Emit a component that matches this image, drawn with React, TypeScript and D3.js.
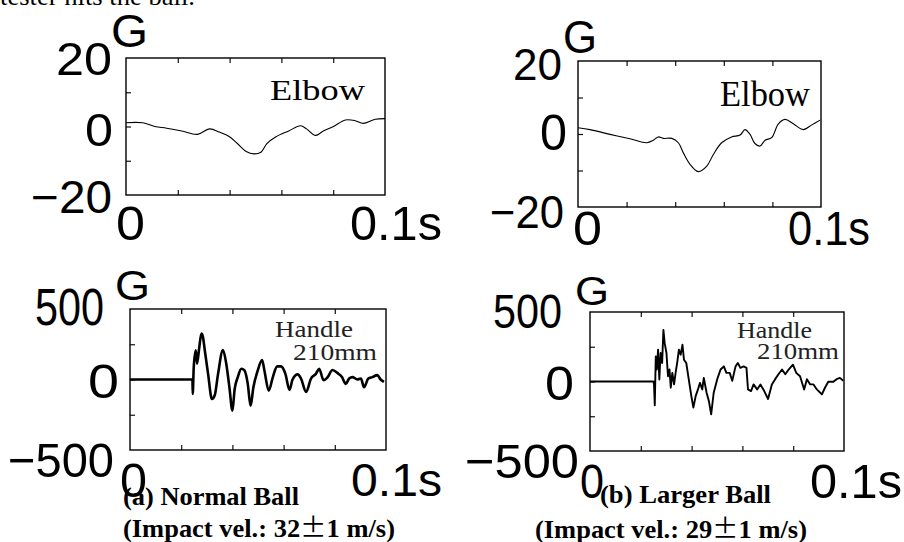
import React, { useEffect, useRef } from 'react';
import * as d3 from 'd3';

// time in ms (0..100 = 0..0.1 s), acceleration in G

// (a) normal ball, elbow
const elbowTimeA = [0, 6.5, 11.1, 15.7, 21.5, 27.6, 32.2, 36.0, 39.8, 42.9, 46.4, 49.4, 52.1, 54.4, 57.9, 62.8, 67.4, 69.7, 73.2, 76.2, 80.1, 84.7, 88.5, 91.6, 96.2, 100];
const elbowAccA = [1.1, 1.1, 0, -0.5, -1.3, -2.3, -0.7, -1.6, -2.9, -4.9, -7.3, -8, -7.5, -5, -3, -1.3, 0.2, -0.7, -2.6, -1.3, 0, 1.9, 1.7, 0.9, 2.1, 2.3];

// (b) larger ball, elbow
const elbowTimeB = [0, 4.9, 13.2, 21.4, 28.3, 31.0, 33.0, 35.1, 38.6, 41.3, 43.3, 46.1, 49.5, 53.0, 55.7, 59.1, 63.2, 66.7, 68.7, 70.8, 72.8, 74.9, 77.0, 79.7, 82.4, 85.2, 88.6, 92.7, 96.2, 99.6];
const elbowAccB = [1.7, 1.2, -0.1, -1.3, -2.4, -1.7, -0.8, -1.2, -1.2, -2.4, -5.1, -8.3, -10.3, -8.8, -5.6, -2.4, -0.8, -0.3, 1.2, -0.1, -2.6, -3.3, -1.7, -1.0, 2.7, 4.0, 2.8, 1.2, 2.5, 3.8];

// (a) normal ball, handle 210mm
const handleTimeA = [0, 24.4, 24.5, 24.9, 25.7, 26.2, 27.0, 27.9, 28.5, 29.2, 30.5, 32.0, 33.1, 34.4, 36.3, 37.6, 38.9, 40.0, 40.9, 42.1, 43.5, 44.7, 46.0, 47.1, 48.2, 49.9, 51.6, 52.5, 54.2, 55.8, 57.5, 59.0, 60.7, 62.3, 63.5, 65.5, 66.8, 68.8, 70.7, 72.6, 73.9, 75.6, 77.2, 79.1, 81.1, 82.8, 84.3, 85.6, 86.9, 88.8, 90.2, 91.4, 93.1, 94.7, 96.6, 97.9, 99.2];
const handleAccA = [0, 0, -102, 88, 207, 112, 219, 326, 302, 209, 40, -138, -112, 40, 209, 112, -66, -221, -66, 17, 76, 64, -31, -186, -55, 64, 138, 64, -79, 17, 93, 93, 40, -74, 0, 36, 7, -88, 7, 40, 76, -5, 17, 67, 45, 17, -31, 7, 17, 0, 7, -55, 7, 17, 31, 0, -17];

// (b) larger ball, handle 210mm
const handleTimeB = [0, 25.0, 25.2, 25.5, 25.9, 26.3, 26.8, 27.3, 27.8, 28.4, 28.9, 29.4, 30.1, 30.7, 31.3, 31.8, 32.4, 33.1, 33.7, 34.4, 35.0, 35.7, 36.4, 37.0, 37.9, 38.9, 39.9, 40.7, 41.6, 42.5, 43.3, 44.2, 44.8, 45.9, 46.8, 47.7, 48.7, 50.1, 51.4, 52.7, 53.7, 55.0, 56.0, 57.3, 58.2, 59.2, 60.5, 61.6, 62.2, 63.4, 64.4, 65.8, 67.1, 68.6, 70.1, 71.6, 72.9, 74.2, 75.6, 76.9, 78.2, 79.9, 81.2, 82.7, 84.3, 85.4, 86.7, 88.0, 89.3, 91.3, 92.5, 93.8, 95.8, 97.1, 98.4, 99.7];
const handleAccB = [0, 0, -21, -171, 181, 86, 229, 14, 205, 133, 371, 276, 205, 38, 86, -45, 62, -21, 62, 145, 229, 193, 264, 157, 133, 14, -105, -188, -105, -57, -10, -57, 26, -81, -140, -236, -81, 17, 86, 109, 62, 62, 5, 109, 133, 98, 109, 98, -57, -69, -21, -57, -21, -69, -126, -21, 17, 52, 86, 52, 86, 121, 62, 38, -57, 17, -21, -21, -57, -93, -45, -2, -2, 17, 26, 5];

const timeTicks = [20, 40, 60, 80];

const SANS = '"Liberation Sans", Arial, sans-serif';
const SERIF = '"Liberation Serif", "Times New Roman", serif';
const CJK = '"Noto Sans CJK JP", "Noto Sans", sans-serif';

type Label = { text: string; x: number; y: number; size: number; w: number; font?: string; weight?: string; fill?: string };
type Box = { x0: number; x1: number; y0: number; y1: number };

function Panel(props: { box: Box; yMax: number; t: number[]; acc: number[]; stroke: number; curve: any; labels: Label[] }) {
  const axisRef = useRef<SVGGElement>(null);
  const { box, yMax, t, acc } = props;
  const x = d3.scaleLinear().domain([0, 100]).range([box.x0, box.x1]);
  const y = d3.scaleLinear().domain([-yMax, yMax]).range([box.y1, box.y0]);

  useEffect(() => {
    const g = d3.select(axisRef.current);
    g.selectAll('*').remove();
    const yTicks = [-yMax / 2, 0, yMax / 2];
    const noText = () => '';
    g.append('g').attr('transform', `translate(0,${box.y1})`)
      .call(d3.axisBottom(x).tickValues(timeTicks).tickSize(-5).tickFormat(noText));
    g.append('g').attr('transform', `translate(0,${box.y0})`)
      .call(d3.axisTop(x).tickValues(timeTicks).tickSize(-5).tickFormat(noText));
    g.append('g').attr('transform', `translate(${box.x0},0)`)
      .call(d3.axisLeft(y).tickValues(yTicks).tickSize(-5).tickFormat(noText));
    g.selectAll('.domain').remove();
    g.selectAll('.tick line').attr('stroke', '#111').attr('stroke-width', 1.2);
  }, []);

  const line = d3.line<number>()
    .x((d, i) => x(t[i]))
    .y(d => y(d))
    .curve(props.curve);

  return (
    <g>
      <g ref={axisRef} />
      <path d={line(acc) || ''} fill="none" stroke="#000" strokeWidth={props.stroke} strokeLinejoin="round" />
      <rect x={box.x0} y={box.y0} width={box.x1 - box.x0} height={box.y1 - box.y0}
        fill="none" stroke="#000" strokeWidth={1.4} />
      {props.labels.map((l, i) => (
        <text key={i} x={l.x} y={l.y} fontSize={l.size} fontFamily={l.font || SANS}
          fontWeight={l.weight || 'normal'} fill={l.fill || '#000'}
          textLength={l.w} lengthAdjust="spacingAndGlyphs">{l.text}</text>
      ))}
    </g>
  );
}

const labelsA: Label[] = [
  { text: '20', x: 56, y: 75, size: 46, w: 56 },
  { text: 'G', x: 111, y: 47, size: 46, w: 37 },
  { text: '0', x: 85, y: 146, size: 46, w: 28 },
  { text: '\u221220', x: 31, y: 213, size: 46, w: 81 },
  { text: '0', x: 116, y: 240, size: 49, w: 29 },
  { text: '0.1s', x: 350, y: 240, size: 49, w: 92 },
  { text: 'Elbow', x: 270, y: 100, size: 30, w: 95, font: SERIF },
];
const labelsB: Label[] = [
  { text: '20', x: 513, y: 80, size: 45, w: 49 },
  { text: 'G', x: 563, y: 53, size: 46, w: 34 },
  { text: '0', x: 540, y: 150, size: 50, w: 27 },
  { text: '\u221220', x: 490, y: 228, size: 46, w: 74 },
  { text: '0', x: 573, y: 245, size: 49, w: 29 },
  { text: '0.1s', x: 788, y: 245, size: 49, w: 82 },
  { text: 'Elbow', x: 720, y: 106, size: 35, w: 90, font: SERIF },
];
const labelsC: Label[] = [
  { text: '500', x: 35, y: 325, size: 52, w: 69 },
  { text: 'G', x: 115, y: 300, size: 42, w: 35 },
  { text: '0', x: 88, y: 398, size: 49, w: 31 },
  { text: '\u2212500', x: 8, y: 477, size: 49, w: 106 },
  { text: '0', x: 120, y: 497, size: 49, w: 27 },
  { text: '0.1s', x: 351, y: 496, size: 46, w: 91 },
  { text: 'Handle', x: 275, y: 337, size: 24, w: 78, font: SERIF, fill: '#222' },
  { text: '210mm', x: 293, y: 360, size: 24, w: 84, font: SERIF, fill: '#222' },
];
const labelsD: Label[] = [
  { text: '500', x: 493, y: 328, size: 49, w: 69 },
  { text: 'G', x: 575, y: 305, size: 40, w: 34 },
  { text: '0', x: 545, y: 400, size: 49, w: 29 },
  { text: '\u2212500', x: 465, y: 478, size: 49, w: 114 },
  { text: '0', x: 580, y: 498, size: 49, w: 24 },
  { text: '0.1s', x: 810, y: 498, size: 49, w: 92 },
  { text: 'Handle', x: 737, y: 338, size: 24, w: 75, font: SERIF, fill: '#222' },
  { text: '210mm', x: 757, y: 359, size: 24, w: 82, font: SERIF, fill: '#222' },
];

export default function App() {
  return (
    <svg width={904} height={542} style={{ position: 'absolute', left: 0, top: 0, background: '#fff' }}>
      <text x={0} y={5} fontSize={26} fontFamily={SERIF} textLength={195} lengthAdjust="spacingAndGlyphs">tester hits the ball.</text>

      <Panel box={{ x0: 126, x1: 385, y0: 58, y1: 195 }} yMax={20} t={elbowTimeA} acc={elbowAccA}
        stroke={1.1} curve={d3.curveCatmullRom} labels={labelsA} />
      <Panel box={{ x0: 578, x1: 821, y0: 61, y1: 207 }} yMax={20} t={elbowTimeB} acc={elbowAccB}
        stroke={1.1} curve={d3.curveCatmullRom} labels={labelsB} />
      <Panel box={{ x0: 130, x1: 386, y0: 309, y1: 450 }} yMax={500} t={handleTimeA} acc={handleAccA}
        stroke={2.6} curve={d3.curveMonotoneX} labels={labelsC} />
      <Panel box={{ x0: 590, x1: 844, y0: 312, y1: 451 }} yMax={500} t={handleTimeB} acc={handleAccB}
        stroke={1.9} curve={d3.curveLinear} labels={labelsD} />

      <g fontFamily={SERIF} fontWeight="bold" fontSize={26}>
        <text x={123} y={505} textLength={176} lengthAdjust="spacingAndGlyphs">(a) Normal Ball</text>
        <text x={123} y={537} textLength={272} lengthAdjust="spacingAndGlyphs">
          (Impact vel.: 32<tspan fontFamily={CJK} fontWeight="normal">±</tspan>1 m/s)
        </text>
        <text x={600} y={503} textLength={171} lengthAdjust="spacingAndGlyphs">(b) Larger Ball</text>
        <text x={535} y={538} textLength={272} lengthAdjust="spacingAndGlyphs">
          (Impact vel.: 29<tspan fontFamily={CJK} fontWeight="normal">±</tspan>1 m/s)
        </text>
      </g>
    </svg>
  );
}
